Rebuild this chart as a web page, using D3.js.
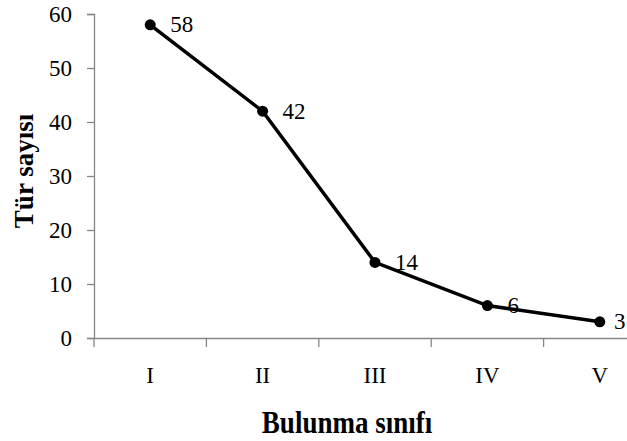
<html>
<head>
<meta charset="utf-8">
<script src="https://cdn.jsdelivr.net/npm/d3@7"></script>
<style>
  body { margin: 0; background: #fff; }
  text { font-family: "Liberation Serif", "Times New Roman", serif; }
</style>
</head>
<body>
<script>

const categories = ["I", "II", "III", "IV", "V"];
const values = [58, 42, 14, 6, 3];
const yTicks = [0, 10, 20, 30, 40, 50, 60];

const W = 627, H = 441;
const plotLeft = 94, plotTop = 14, plotBottom = 338;
const band = 112.4;

const svg = d3.select("body").append("svg")
  .attr("width", W)
  .attr("height", H);

const x = d3.scaleBand()
  .domain(categories)
  .range([plotLeft, plotLeft + band * categories.length]);

const y = d3.scaleLinear()
  .domain([0, 60])
  .range([plotBottom, plotTop]);

const axisColor = "#868686";

// y axis
const gy = svg.append("g")
  .attr("transform", `translate(${plotLeft},0)`)
  .call(d3.axisLeft(y).tickValues(yTicks).tickSize(7).tickPadding(15));
gy.select(".domain").attr("stroke", axisColor).attr("stroke-width", 1.3);
gy.selectAll(".tick line").attr("stroke", axisColor).attr("stroke-width", 1.3);
gy.selectAll(".tick text")
  .attr("font-size", 23)
  .attr("fill", "#000")
  .style("font-family", "Liberation Serif");

// x axis
const gx = svg.append("g")
  .attr("transform", `translate(0,${plotBottom})`)
  .call(d3.axisBottom(x).tickSize(0).tickPadding(29));
gx.select(".domain").attr("stroke", axisColor).attr("stroke-width", 1.3);
gx.selectAll(".tick text")
  .attr("font-size", 23)
  .attr("fill", "#000")
  .style("font-family", "Liberation Serif");

// tick marks between categories
gx.selectAll(".sep")
  .data(d3.range(categories.length + 1))
  .enter()
  .append("line")
  .attr("x1", i => plotLeft + i * x.step())
  .attr("x2", i => plotLeft + i * x.step())
  .attr("y1", 0)
  .attr("y2", 9)
  .attr("stroke", axisColor)
  .attr("stroke-width", 1.3);

const cx = d => x(d) + x.bandwidth() / 2;

const line = d3.line()
  .x((d, i) => cx(categories[i]))
  .y(d => y(d));

svg.append("path")
  .datum(values)
  .attr("d", line)
  .attr("fill", "none")
  .attr("stroke", "#000")
  .attr("stroke-width", 3.5);

svg.selectAll(".dot")
  .data(values)
  .enter()
  .append("circle")
  .attr("cx", (d, i) => cx(categories[i]))
  .attr("cy", d => y(d))
  .attr("r", 5.5)
  .attr("fill", "#000");

// value labels, kept inside the picture at the right edge
svg.selectAll(".lbl")
  .data(values)
  .enter()
  .append("text")
  .attr("x", (d, i) => Math.min(cx(categories[i]) + 20, W - 13))
  .attr("y", d => y(d) + 7.5)
  .attr("font-size", 23)
  .text(d => d);

// axis titles
svg.append("text")
  .attr("transform", "translate(347,433) scale(1,1.2)")
  .attr("text-anchor", "middle")
  .attr("font-size", 27)
  .attr("font-weight", "bold")
  .text("Bulunma sınıfı");

svg.append("text")
  .attr("transform", "translate(33,171) rotate(-90)")
  .attr("text-anchor", "middle")
  .attr("font-size", 27)
  .attr("font-weight", "bold")
  .text("Tür sayısı");

</script>
</body>
</html>
